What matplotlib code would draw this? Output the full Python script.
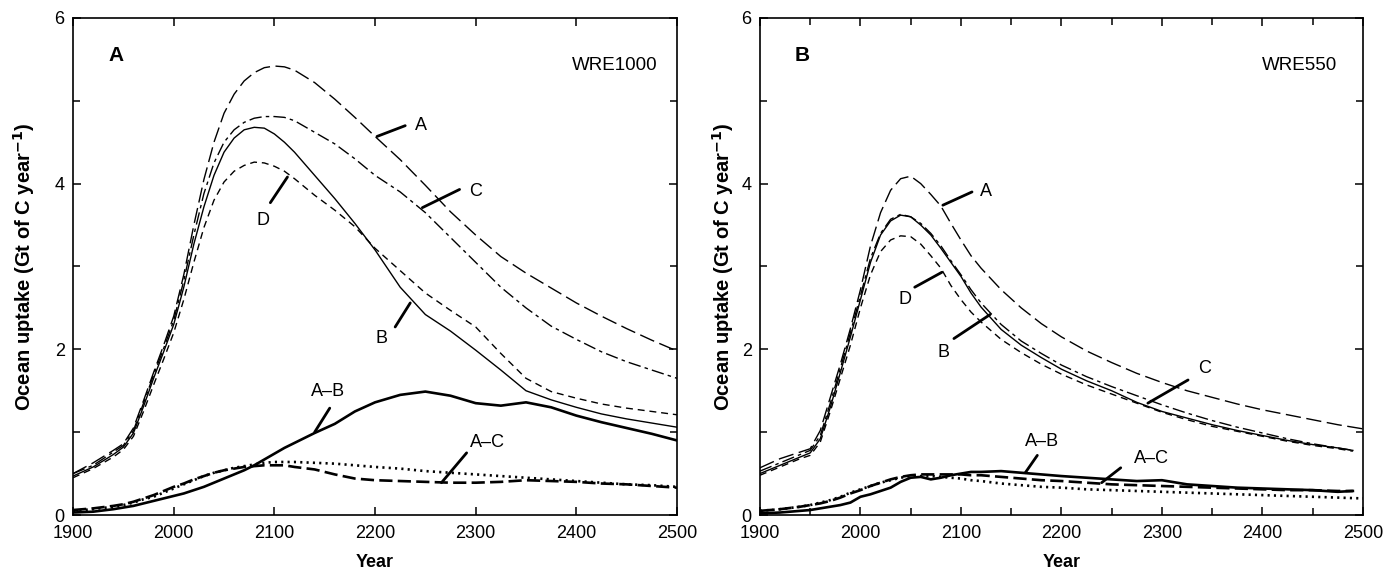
import matplotlib
matplotlib.use("Agg")
import matplotlib.pyplot as plt
from matplotlib.ticker import MultipleLocator

plt.rcParams['font.family'] = ['Liberation Sans', 'DejaVu Sans']

# ---------------- data ----------------
years = [1900, 1920, 1940, 1950, 1960, 1970, 1980, 1990, 2000, 2010, 2020, 2030,
         2040, 2050, 2060, 2070, 2080, 2090, 2100, 2110, 2120, 2140, 2160, 2180,
         2200, 2225, 2250, 2275, 2300, 2325, 2350, 2375, 2400, 2425, 2450, 2475, 2500]
years_short = years[:-1] + [2490]

# Panel A (WRE1000)
a_A = [0.50, 0.63, 0.78, 0.86, 1.05, 1.38, 1.72, 2.05, 2.40, 2.90, 3.50, 4.05,
       4.50, 4.85, 5.08, 5.24, 5.34, 5.40, 5.42, 5.41, 5.37, 5.22, 5.02, 4.80,
       4.57, 4.29, 3.98, 3.66, 3.38, 3.12, 2.92, 2.74, 2.56, 2.40, 2.25, 2.11, 1.98]
a_B = [0.47, 0.58, 0.73, 0.82, 0.99, 1.31, 1.65, 1.97, 2.30, 2.75, 3.27, 3.72,
       4.10, 4.38, 4.55, 4.65, 4.68, 4.67, 4.60, 4.50, 4.38, 4.10, 3.82, 3.52,
       3.20, 2.75, 2.42, 2.22, 1.99, 1.75, 1.50, 1.39, 1.30, 1.22, 1.16, 1.11, 1.06]
a_C = [0.50, 0.60, 0.76, 0.84, 1.02, 1.35, 1.69, 2.01, 2.35, 2.83, 3.38, 3.88,
       4.25, 4.50, 4.65, 4.74, 4.79, 4.81, 4.81, 4.80, 4.76, 4.62, 4.48, 4.30,
       4.10, 3.90, 3.65, 3.35, 3.05, 2.75, 2.50, 2.28, 2.12, 1.97, 1.85, 1.75, 1.65]
a_D = [0.45, 0.56, 0.70, 0.79, 0.95, 1.25, 1.57, 1.88, 2.20, 2.60, 3.05, 3.47,
       3.80, 4.02, 4.15, 4.22, 4.26, 4.25, 4.21, 4.15, 4.06, 3.86, 3.68, 3.48,
       3.22, 2.95, 2.68, 2.47, 2.27, 1.95, 1.65, 1.49, 1.41, 1.34, 1.29, 1.25, 1.21]
a_AB = [0.03, 0.04, 0.07, 0.09, 0.11, 0.14, 0.17, 0.20, 0.23, 0.26, 0.30, 0.34,
        0.39, 0.44, 0.49, 0.54, 0.60, 0.67, 0.74, 0.81, 0.87, 0.99, 1.10, 1.25,
        1.36, 1.45, 1.49, 1.44, 1.35, 1.32, 1.36, 1.30, 1.20, 1.12, 1.05, 0.98, 0.90]
a_AC_dot = [0.05, 0.07, 0.10, 0.12, 0.15, 0.19, 0.22, 0.27, 0.32, 0.37, 0.42, 0.47,
            0.51, 0.54, 0.57, 0.59, 0.61, 0.63, 0.64, 0.64, 0.64, 0.63, 0.62, 0.60,
            0.58, 0.56, 0.53, 0.51, 0.49, 0.47, 0.45, 0.43, 0.41, 0.39, 0.37, 0.36, 0.34]
a_AC_dash = [0.06, 0.08, 0.11, 0.13, 0.16, 0.20, 0.24, 0.29, 0.34, 0.38, 0.43, 0.47,
             0.51, 0.54, 0.56, 0.58, 0.59, 0.60, 0.60, 0.60, 0.58, 0.55, 0.49, 0.44,
             0.42, 0.41, 0.40, 0.39, 0.39, 0.40, 0.42, 0.41, 0.40, 0.38, 0.37, 0.35, 0.33]

# Panel B (WRE550)
b_A = [0.57, 0.68, 0.76, 0.80, 1.02, 1.42, 1.82, 2.25, 2.72, 3.25, 3.65, 3.92,
       4.06, 4.09, 4.00, 3.87, 3.73, 3.52, 3.32, 3.13, 2.98, 2.72, 2.50, 2.31,
       2.15, 1.98, 1.84, 1.71, 1.60, 1.50, 1.42, 1.34, 1.27, 1.21, 1.15, 1.09, 1.04]
b_B = [0.50, 0.60, 0.70, 0.75, 0.92, 1.30, 1.72, 2.15, 2.60, 3.05, 3.38, 3.55,
       3.62, 3.60, 3.50, 3.38, 3.22, 3.05, 2.88, 2.68, 2.51, 2.24, 2.05, 1.90,
       1.76, 1.62, 1.50, 1.36, 1.25, 1.17, 1.09, 1.02, 0.96, 0.90, 0.85, 0.81, 0.78]
b_C = [0.53, 0.63, 0.73, 0.78, 0.96, 1.35, 1.77, 2.20, 2.65, 3.10, 3.40, 3.57,
       3.63, 3.60, 3.52, 3.40, 3.25, 3.07, 2.90, 2.72, 2.56, 2.30, 2.10, 1.95,
       1.81, 1.67, 1.55, 1.44, 1.33, 1.23, 1.14, 1.06, 0.99, 0.92, 0.86, 0.81, 0.78]
b_D = [0.48, 0.58, 0.68, 0.72, 0.88, 1.25, 1.65, 2.05, 2.50, 2.90, 3.18, 3.32,
       3.37, 3.36, 3.27, 3.13, 2.98, 2.77, 2.60, 2.45, 2.33, 2.12, 1.96, 1.82,
       1.70, 1.57, 1.46, 1.35, 1.24, 1.15, 1.07, 1.01, 0.95, 0.89, 0.84, 0.80, 0.77]
b_AB = [0.02, 0.03, 0.05, 0.06, 0.08, 0.10, 0.12, 0.15, 0.22, 0.25, 0.29, 0.33,
        0.40, 0.45, 0.46, 0.43, 0.45, 0.48, 0.50, 0.52, 0.52, 0.53, 0.51, 0.49,
        0.47, 0.45, 0.43, 0.41, 0.42, 0.37, 0.35, 0.33, 0.32, 0.31, 0.30, 0.28, 0.29]
b_AC_dash = [0.05, 0.07, 0.10, 0.12, 0.14, 0.17, 0.21, 0.26, 0.30, 0.35, 0.39, 0.43,
             0.46, 0.48, 0.49, 0.49, 0.49, 0.49, 0.49, 0.48, 0.48, 0.46, 0.44, 0.42,
             0.41, 0.39, 0.37, 0.36, 0.35, 0.34, 0.33, 0.32, 0.31, 0.30, 0.30, 0.29, 0.29]
b_AC_dot = [0.05, 0.07, 0.10, 0.12, 0.15, 0.18, 0.22, 0.27, 0.31, 0.35, 0.39, 0.42,
            0.45, 0.47, 0.47, 0.47, 0.46, 0.45, 0.44, 0.42, 0.41, 0.38, 0.36, 0.34,
            0.33, 0.31, 0.30, 0.29, 0.28, 0.27, 0.26, 0.25, 0.24, 0.23, 0.22, 0.21, 0.20]

panel_letters = ["A", "B"]
scenario_names = ["WRE1000", "WRE550"]
xticks = [1900, 2000, 2100, 2200, 2300, 2400, 2500]
yticks = [0, 2, 4, 6]
ylabel = "Ocean uptake (Gt of C year$^{\\mathbf{-1}}$)"

# ---------------- figure ----------------
fig = plt.figure(figsize=(13.97, 5.76), dpi=100)
axA = fig.add_axes([0.0523, 0.1059, 0.4323, 0.8629])
axB = fig.add_axes([0.5440, 0.1059, 0.4316, 0.8629])

thin = 1.0
thick = 1.9
st_A = dict(color='black', lw=thin, dashes=(11, 4))
st_B = dict(color='black', lw=thin, ls='-')
st_C = dict(color='black', lw=thin, dashes=(9, 3, 2.5, 3))
st_D = dict(color='black', lw=thin, dashes=(5, 3.5))
st_AB = dict(color='black', lw=thick, ls='-')
st_ACdash = dict(color='black', lw=thick, dashes=(5, 2))
st_ACdot = dict(color='black', lw=1.9, dashes=(0.8, 1.6), dash_capstyle='butt')

axA.plot(years, a_A, **st_A)
axA.plot(years, a_C, **st_C)
axA.plot(years, a_D, **st_D)
axA.plot(years, a_B, **st_B)
axA.plot(years, a_AC_dot, **st_ACdot)
axA.plot(years, a_AC_dash, **st_ACdash)
axA.plot(years, a_AB, **st_AB)

axB.plot(years, b_A, **st_A)
axB.plot(years_short, b_C, **st_C)
axB.plot(years_short, b_D, **st_D)
axB.plot(years_short, b_B, **st_B)
axB.plot(years, b_AC_dot, **st_ACdot)
axB.plot(years_short, b_AC_dash, **st_ACdash)
axB.plot(years_short, b_AB, **st_AB)

LBL = 13


def leader(ax, p0, p1, label, tpos, ha='left'):
    ax.annotate('', xy=p0, xytext=p1,
                arrowprops=dict(arrowstyle='-', lw=2.0, color='black',
                                shrinkA=0, shrinkB=0))
    ax.text(tpos[0], tpos[1], label, fontsize=LBL, ha=ha, va='center')


# Panel A annotations
leader(axA, (2202, 4.57), (2230, 4.70), "A", (2240, 4.70))
leader(axA, (2247, 3.71), (2284, 3.93), "C", (2293, 3.90))
leader(axA, (2113, 4.08), (2096, 3.77), "D", (2089, 3.55), ha='center')
leader(axA, (2235, 2.56), (2220, 2.27), "B", (2206, 2.13), ha='center')
leader(axA, (2140, 1.00), (2155, 1.29), "A\u2013B", (2153, 1.49), ha='center')
leader(axA, (2266, 0.39), (2291, 0.75), "A\u2013C", (2312, 0.88), ha='center')

# Panel B annotations
leader(axB, (2082, 3.74), (2111, 3.90), "A", (2119, 3.91))
leader(axB, (2081, 2.93), (2054, 2.75), "D", (2044, 2.60), ha='center')
leader(axB, (2129, 2.42), (2093, 2.13), "B", (2083, 1.96), ha='center')
leader(axB, (2286, 1.35), (2326, 1.63), "C", (2336, 1.77))
leader(axB, (2164, 0.51), (2176, 0.72), "A\u2013B", (2181, 0.89), ha='center')
leader(axB, (2240, 0.39), (2259, 0.57), "A\u2013C", (2290, 0.68), ha='center')

wre_x = [0.968, 0.957]
ylabel_pad = [13, 4]
for i, ax in enumerate([axA, axB]):
    ax.set_xlim(1900, 2500)
    ax.set_ylim(0, 6)
    ax.set_xticks(xticks)
    ax.set_xticklabels([str(t) for t in xticks])
    ax.set_yticks(yticks)
    ax.set_yticklabels([str(t) for t in yticks])
    ax.yaxis.set_minor_locator(MultipleLocator(1))
    if i == 1:
        ax.xaxis.set_minor_locator(MultipleLocator(50))
    ax.tick_params(which='both', direction='in', top=True, right=True,
                   labelsize=13, width=1.1)
    ax.tick_params(axis='x', pad=7)
    ax.tick_params(axis='y', pad=6)
    ax.tick_params(which='major', length=6)
    ax.tick_params(which='minor', length=5)
    for sp in ax.spines.values():
        sp.set_linewidth(1.2)
    ax.set_xlabel("Year", fontsize=13, fontweight='bold', labelpad=9)
    ax.set_ylabel(ylabel, fontsize=14.5, fontweight='bold',
                  labelpad=ylabel_pad[i])
    ax.text(0.058, 0.925, panel_letters[i], transform=ax.transAxes,
            fontsize=15, fontweight='bold', ha='left', va='center')
    ax.text(wre_x[i], 0.905, scenario_names[i], transform=ax.transAxes,
            fontsize=13.5, ha='right', va='center')

fig.savefig("out.png", dpi=100)
